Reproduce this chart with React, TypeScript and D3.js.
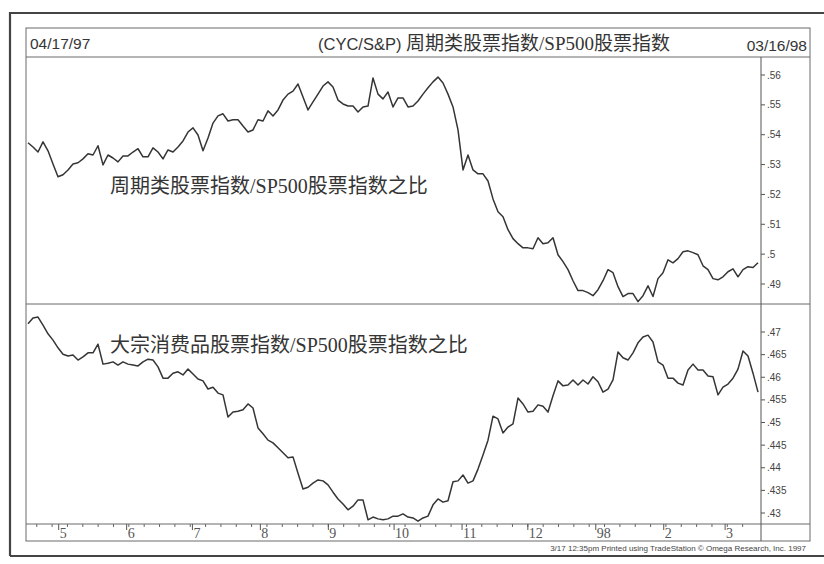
import React, { useEffect, useRef } from 'react';
import * as d3 from 'd3';

// chart window: 04/17/97 .. 03/16/98, samples evenly spaced over it
const startDate = new Date(1997, 3, 17);
const endDate = new Date(1998, 2, 16);

// CYC / S&P500 ratio (upper panel)
const cycRatio = [
  0.5373, 0.5359, 0.5342, 0.5376, 0.5346, 0.5302, 0.5259, 0.5266, 0.5282, 0.5302,
  0.5306, 0.5319, 0.5336, 0.5332, 0.5363, 0.5299, 0.5332, 0.5322, 0.5309, 0.5329,
  0.5329, 0.5342, 0.5353, 0.5326, 0.5326, 0.5356, 0.5342, 0.5319, 0.5349, 0.5342,
  0.5359, 0.5379, 0.5409, 0.5423, 0.5399, 0.5346, 0.5389, 0.5439, 0.5463, 0.547,
  0.5446, 0.545, 0.545, 0.5429, 0.5409, 0.5416, 0.545, 0.5446, 0.548, 0.5463,
  0.5483, 0.5516, 0.5536, 0.5546, 0.557, 0.5526, 0.5483, 0.551, 0.5536, 0.5563,
  0.5577, 0.556, 0.5516, 0.5503, 0.5496, 0.5496, 0.5476, 0.5493, 0.5496, 0.559,
  0.5536, 0.552, 0.5543, 0.5493, 0.5523, 0.5523, 0.5493, 0.5496, 0.5513, 0.5536,
  0.5557, 0.5577, 0.5593, 0.5573, 0.5536, 0.5493, 0.5416, 0.5282, 0.5332, 0.5282,
  0.5269, 0.5269, 0.5245, 0.5185, 0.5142, 0.5125, 0.5082, 0.5052, 0.5035, 0.5021,
  0.5021, 0.5018, 0.5055, 0.5035, 0.5038, 0.5055, 0.4998, 0.4975, 0.4948, 0.4911,
  0.4878, 0.4878, 0.4871, 0.4861, 0.4881, 0.4911, 0.4948, 0.4938, 0.4891, 0.4858,
  0.4868, 0.4868, 0.4841, 0.4861, 0.4894, 0.4858, 0.4918, 0.4938, 0.4981, 0.4971,
  0.4985, 0.5008, 0.5011, 0.5005, 0.4998, 0.4961, 0.4948, 0.4918, 0.4914, 0.4924,
  0.4941, 0.4951, 0.4924, 0.4948, 0.4958, 0.4955, 0.4971,
];

// consumer staples / S&P500 ratio (lower panel)
const consRatio = [
  0.4718, 0.4731, 0.4733, 0.4715, 0.4696, 0.4682, 0.4665, 0.4651, 0.4647, 0.4649,
  0.4638, 0.4645, 0.4654, 0.4654, 0.4673, 0.4629, 0.4631, 0.4634, 0.4627, 0.4634,
  0.4629, 0.4627, 0.4625, 0.4634, 0.464, 0.4638, 0.4623, 0.4598, 0.4598, 0.4609,
  0.4612, 0.4605, 0.4618, 0.4607, 0.4596, 0.4592, 0.4574, 0.4578, 0.4565, 0.4561,
  0.4512, 0.4523, 0.4525, 0.4528, 0.4541, 0.4532, 0.4488, 0.4475, 0.4461, 0.4455,
  0.4444, 0.4433, 0.4422, 0.4424, 0.4388, 0.4353, 0.4357, 0.4366, 0.4373, 0.4371,
  0.4362, 0.4346, 0.4331, 0.432, 0.4307, 0.4315, 0.4329, 0.4329, 0.4285, 0.4291,
  0.4287, 0.4285, 0.4287, 0.4293, 0.4293, 0.4298, 0.4291, 0.4289, 0.4282, 0.4289,
  0.4293, 0.4318, 0.4331, 0.4324, 0.4327, 0.4369, 0.4371, 0.4384, 0.4366, 0.4371,
  0.4397, 0.4428, 0.4461, 0.4514, 0.4508, 0.4477, 0.449, 0.4497, 0.4554, 0.4541,
  0.4523, 0.4525, 0.4539, 0.4536, 0.4523, 0.4559, 0.4592, 0.4581, 0.4583, 0.4594,
  0.4583, 0.4594, 0.4585, 0.4601, 0.459, 0.4567, 0.4574, 0.4594, 0.4656, 0.4643,
  0.4638, 0.4654, 0.4676, 0.4689, 0.4693, 0.4678, 0.4634, 0.4627, 0.4598, 0.4598,
  0.4587, 0.4583, 0.4616, 0.4629, 0.4616, 0.4616, 0.4603, 0.4601, 0.4561, 0.4578,
  0.4585, 0.4598, 0.4618, 0.4658, 0.4647, 0.4609, 0.4567,
];

const cycTicks = [0.49, 0.5, 0.51, 0.52, 0.53, 0.54, 0.55, 0.56];
const consTicks = [0.43, 0.435, 0.44, 0.445, 0.45, 0.455, 0.46, 0.465, 0.47];

const headerLeft = '04/17/97';
const headerRight = '03/16/98';
const titleCode = '(CYC/S&P) ';
const titleText = '周期类股票指数/SP500股票指数';
const cycLabel = '周期类股票指数/SP500股票指数之比';
const consLabel = '大宗消费品股票指数/SP500股票指数之比';
const footnote = '3/17 12:35pm Printed using TradeStation © Omega Research, Inc. 1997';

const sans = '"Liberation Sans", Arial, sans-serif';
const serifCjk = '"Liberation Serif", "Noto Sans CJK SC", serif';
const ink = '#353535';
const rule = '#6a6a6a';

const fmtTick = (v: number) => String(+v.toFixed(3)).replace(/^0/, '');

const App: React.FC = () => {
  const svgRef = useRef<SVGSVGElement | null>(null);

  useEffect(() => {
    document.body.style.margin = '0';
    if (!svgRef.current) return;
    const width = 824, height = 564;
    const left = 26, right = 810, axisX = 761;
    const headTop = 28, headBottom = 57, divider = 304, stripTop = 524, stripBottom = 541;

    const svg = d3.select(svgRef.current);
    svg.selectAll('*').remove();
    svg.attr('viewBox', `0 0 ${width} ${height}`);
    svg.append('rect').attr('width', width).attr('height', height).attr('fill', '#fff');

    const x = d3.scaleTime().domain([startDate, endDate]).range([28, 758]);
    const yTop = d3.scaleLinear().domain([0.49, 0.56]).range([284, 75]);
    const yBot = d3.scaleLinear().domain([0.43, 0.47]).range([513, 332]);
    const dateAt = d3.scaleLinear().domain([0, cycRatio.length - 1])
      .range([startDate.getTime(), endDate.getTime()]);

    // outer heavy frame
    const frame = svg.append('g').attr('stroke', '#444').attr('fill', 'none');
    frame.append('path').attr('d', `M10,556 L10,13 L824,13`).attr('stroke-width', 2.2);
    frame.append('path').attr('d', `M10,556 L824,556`).attr('stroke-width', 2.2);

    // inner box + rules
    const g = svg.append('g').attr('stroke', rule).attr('stroke-width', 1).attr('fill', 'none');
    g.append('rect').attr('x', left).attr('y', headTop)
      .attr('width', right - left).attr('height', stripBottom - headTop);
    g.append('line').attr('x1', left).attr('x2', right).attr('y1', headBottom).attr('y2', headBottom);
    g.append('line').attr('x1', left).attr('x2', right).attr('y1', divider).attr('y2', divider);
    g.append('line').attr('x1', left).attr('x2', right).attr('y1', stripTop).attr('y2', stripTop);
    g.append('line').attr('x1', axisX).attr('x2', axisX).attr('y1', headBottom).attr('y2', stripBottom)
      .attr('stroke', '#555');

    // header texts
    svg.append('text').attr('x', 30).attr('y', 49).attr('font-family', sans)
      .attr('font-size', 15.5).attr('fill', ink).text(headerLeft);
    svg.append('text').attr('x', 807).attr('y', 51).attr('text-anchor', 'end').attr('font-family', sans)
      .attr('font-size', 15.5).attr('fill', ink).text(headerRight);
    const title = svg.append('text').attr('x', 494).attr('y', 50).attr('text-anchor', 'middle')
      .attr('fill', ink);
    title.append('tspan').attr('font-family', sans).attr('font-size', 16.5).text(titleCode);
    title.append('tspan').attr('font-family', serifCjk).attr('font-size', 19).text(titleText);

    // right-hand scales
    const drawAxis = (scale: d3.ScaleLinear<number, number>, ticks: number[]) => {
      const a = svg.append('g');
      a.selectAll('line').data(ticks).enter().append('line')
        .attr('x1', axisX).attr('x2', axisX + 4)
        .attr('y1', (d) => scale(d)).attr('y2', (d) => scale(d))
        .attr('stroke', '#555');
      a.selectAll('text').data(ticks).enter().append('text')
        .attr('x', axisX + 6).attr('y', (d) => scale(d)).attr('dy', '0.35em')
        .attr('font-family', sans).attr('font-size', 10).attr('fill', '#444')
        .text((d) => fmtTick(d));
    };
    drawAxis(yTop, cycTicks);
    drawAxis(yBot, consTicks);

    // time strip: weekly minor ticks, monthly labels
    const weeks = d3.timeMonday.range(startDate, endDate);
    svg.append('g').selectAll('line').data(weeks).enter().append('line')
      .attr('x1', (d) => x(d)).attr('x2', (d) => x(d))
      .attr('y1', stripTop).attr('y2', stripTop + 3)
      .attr('stroke', '#666');
    const months = d3.timeMonth.range(startDate, endDate);
    const mg = svg.append('g');
    mg.selectAll('line').data(months).enter().append('line')
      .attr('x1', (d) => x(d)).attr('x2', (d) => x(d))
      .attr('y1', stripTop).attr('y2', stripTop + 6)
      .attr('stroke', '#555');
    mg.selectAll('text').data(months).enter().append('text')
      .attr('x', (d) => x(d) + 1).attr('y', 538)
      .attr('font-family', '"Liberation Serif", serif').attr('font-size', 14).attr('fill', '#555')
      .text((d) => (d.getMonth() === 0 ? String(d.getFullYear()).slice(2) : String(d.getMonth() + 1)));

    // the two ratio lines
    const lineTop = d3.line<number>().x((_, i) => x(new Date(dateAt(i)))).y((d) => yTop(d));
    const lineBot = d3.line<number>().x((_, i) => x(new Date(dateAt(i)))).y((d) => yBot(d));
    svg.append('path').datum(cycRatio).attr('d', lineTop)
      .attr('fill', 'none').attr('stroke', ink).attr('stroke-width', 1.5).attr('stroke-linejoin', 'round');
    svg.append('path').datum(consRatio).attr('d', lineBot)
      .attr('fill', 'none').attr('stroke', ink).attr('stroke-width', 1.5).attr('stroke-linejoin', 'round');

    // annotations
    svg.append('text').attr('x', 110).attr('y', 193).attr('font-family', serifCjk)
      .attr('font-size', 20).attr('fill', ink).text(cycLabel);
    svg.append('text').attr('x', 110).attr('y', 352).attr('font-family', serifCjk)
      .attr('font-size', 20).attr('fill', ink).text(consLabel);

    svg.append('text').attr('x', 806).attr('y', 551).attr('text-anchor', 'end')
      .attr('font-family', sans).attr('font-size', 8).attr('fill', '#444').text(footnote);
  }, []);

  return <svg ref={svgRef} width={824} height={564} style={{ display: 'block' }} />;
};

export default App;
